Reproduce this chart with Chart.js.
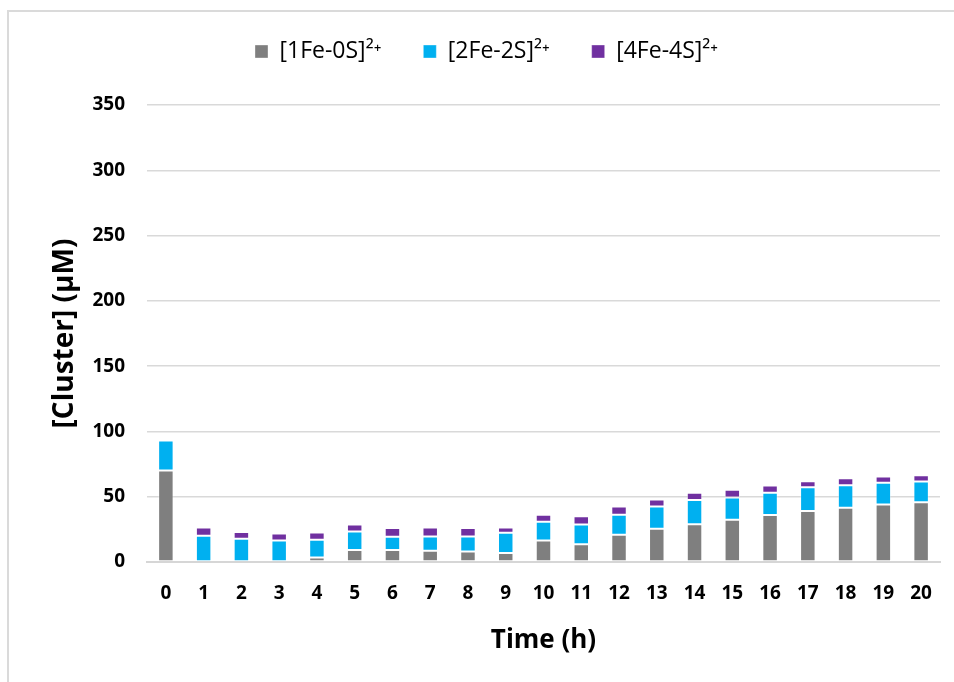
<!DOCTYPE html>
<html>
<head>
<meta charset="utf-8">
<script src="https://cdn.jsdelivr.net/npm/chart.js@4.4.0/dist/chart.umd.min.js"></script>
<style>
  html, body { margin: 0; padding: 0; background: #fff; overflow: hidden; }
  #frame { position: absolute; left: 7px; top: 10px; width: 1000px; height: 700px;
           border: 2px solid #dadada; box-sizing: border-box; }
  #cluster-chart { position: absolute; left: 0; top: 0; }
</style>
</head>
<body>
<div id="frame"></div>
<canvas id="cluster-chart" width="954" height="682"></canvas>
<script>
// Cluster concentration over time, stacked by cluster type

const hours = ['0', '1', '2', '3', '4', '5', '6', '7', '8', '9', '10',
               '11', '12', '13', '14', '15', '16', '17', '18', '19', '20'];
const fe1s0 = [70, 0, 0.5, 0, 3.5, 9.2, 9.2, 8.6, 8.1, 6.9, 16.5,
               13.5, 20.9, 25.4, 29.0, 32.3, 35.9, 39.0, 41.5, 44.0, 45.8];
const fe2s2 = [23, 20.1, 17.3, 16.5, 13.5, 14.2, 10.1, 11.0, 11.5, 15.5, 14.3,
               15.2, 15.2, 17.1, 18.4, 17.1, 17.1, 18.3, 17.3, 16.6, 15.8];
const fe4s4 = [0.6, 6.3, 5.1, 5.4, 5.6, 5.3, 6.7, 6.9, 6.4, 4.1, 5.3,
               6.4, 6.4, 5.3, 5.6, 5.9, 5.6, 4.6, 5.4, 4.8, 4.9];
const yTicks = [0, 50, 100, 150, 200, 250, 300, 350];

Chart.defaults.font.family = "'Open Sans', sans-serif";
Chart.defaults.color = '#000';

function barSet(label, data, color) {
    return {
        label: label,
        data: data,
        backgroundColor: color,
        borderColor: 'rgba(255, 255, 255, 0.35)',
        borderWidth: 1,
        borderSkipped: false,
        categoryPercentage: 1,
        barPercentage: 0.41
    };
}

// legend gets a fixed height so the plot starts where the original does
const legendSpacer = {
    id: 'legendSpacer',
    beforeInit(chart) {
        const fitLegend = chart.legend.fit;
        chart.legend.fit = function() {
            fitLegend.call(this);
            this.height = 107;
        };
    }
};

const ctx = document.getElementById('cluster-chart').getContext('2d');

const clusterChart = new Chart(ctx, {
    type: 'bar',
    data: {
        labels: hours,
        datasets: [
            barSet('[1Fe-0S]²⁺', fe1s0, '#7f7f7f'),
            barSet('[2Fe-2S]²⁺', fe2s2, '#00b0f0'),
            barSet('[4Fe-4S]²⁺', fe4s4, '#7030a0')
        ]
    },
    plugins: [legendSpacer],
    options: {
        responsive: false,
        devicePixelRatio: 1,
        animation: false,
        layout: {
            padding: { left: 33, right: 14, top: -2, bottom: 26 }
        },
        plugins: {
            legend: {
                position: 'top',
                labels: {
                    boxWidth: 13,
                    boxHeight: 13,
                    padding: 42,
                    font: { size: 23 },
                    color: '#000'
                }
            },
            tooltip: { enabled: false }
        },
        scales: {
            x: {
                stacked: true,
                grid: { display: false, drawTicks: false },
                border: { display: true, color: '#d6d6d6', width: 2 },
                ticks: {
                    padding: 20,
                    font: { size: 19, weight: 'bold' },
                    maxRotation: 0,
                    autoSkip: false
                },
                afterFit: function(scale) {
                    scale.height = 94;
                },
                title: {
                    display: true,
                    text: 'Time (h)',
                    font: { size: 26, weight: 'bold' },
                    padding: { top: 0, bottom: 0 }
                }
            },
            y: {
                stacked: true,
                min: 0,
                max: 350,
                afterBuildTicks: function(scale) {
                    scale.ticks = yTicks.map(v => ({ value: v }));
                },
                afterFit: function(scale) {
                    scale.width = 114;
                },
                grid: { color: '#d9d9d9', lineWidth: 1.5, drawTicks: false },
                border: { display: false },
                ticks: {
                    padding: 22,
                    font: { size: 19, weight: 'bold' }
                },
                title: {
                    display: true,
                    text: '[Cluster] (μM)',
                    font: { size: 28, weight: 'bold' },
                    padding: { top: 15, bottom: 0 }
                }
            }
        }
    }
});
</script>
</body>
</html>
